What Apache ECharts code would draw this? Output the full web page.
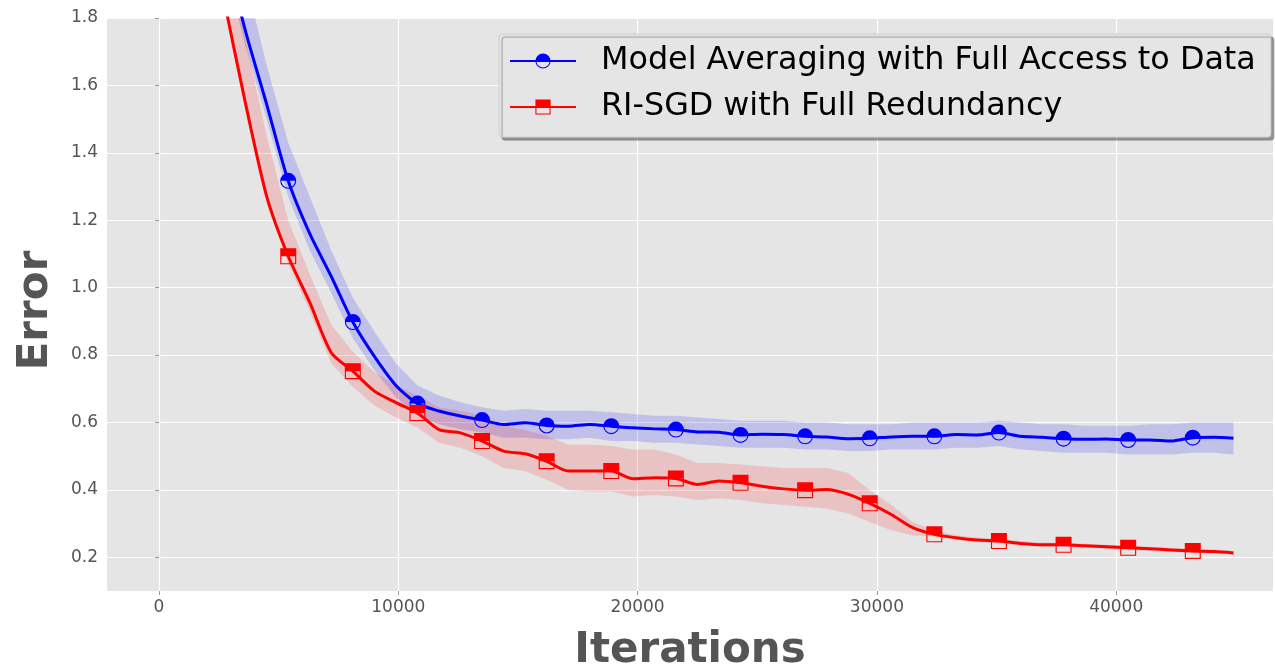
<!DOCTYPE html>
<html>
<head>
<meta charset="utf-8">
<script src="https://cdn.jsdelivr.net/npm/echarts@6/dist/echarts.min.js"></script>
<style>
  html, body { margin: 0; padding: 0; background: #ffffff; }
  #chart { width: 1275px; height: 672px; }
</style>
</head>
<body>
<div id="chart"></div>
<script>
// ---- data ----
const iters = [2700, 3600, 4500, 5400, 6300, 7200, 8100, 9000, 9900, 10800, 11700, 12600, 13500, 14400, 15300, 16200, 17100, 18000, 18900, 19800, 20700, 21600, 22500, 23400, 24300, 25200, 26100, 27000, 27900, 28800, 29700, 30600, 31500, 32400, 33300, 34200, 35100, 36000, 36900, 37800, 38700, 39600, 40500, 41400, 42300, 43200, 44100, 44900];

const blueMean = [2.02, 1.765, 1.544, 1.317, 1.160, 1.033, 0.898, 0.796, 0.710, 0.656, 0.634, 0.619, 0.607, 0.594, 0.599, 0.591, 0.589, 0.594, 0.589, 0.584, 0.581, 0.579, 0.572, 0.571, 0.563, 0.565, 0.564, 0.559, 0.557, 0.552, 0.553, 0.557, 0.559, 0.559, 0.564, 0.563, 0.570, 0.559, 0.556, 0.552, 0.550, 0.551, 0.548, 0.548, 0.545, 0.555, 0.556, 0.553];
const blueHi   = [2.20, 1.92, 1.66, 1.43, 1.27, 1.11, 0.97, 0.87, 0.775, 0.71, 0.68, 0.66, 0.645, 0.635, 0.64, 0.635, 0.635, 0.635, 0.63, 0.625, 0.62, 0.62, 0.615, 0.61, 0.605, 0.605, 0.605, 0.60, 0.60, 0.595, 0.595, 0.595, 0.60, 0.60, 0.60, 0.60, 0.605, 0.60, 0.595, 0.595, 0.59, 0.59, 0.59, 0.595, 0.595, 0.60, 0.60, 0.60];
const blueLo   = [1.97, 1.72, 1.50, 1.27, 1.11, 0.985, 0.85, 0.755, 0.675, 0.62, 0.595, 0.58, 0.57, 0.555, 0.555, 0.55, 0.55, 0.555, 0.545, 0.545, 0.54, 0.54, 0.535, 0.53, 0.525, 0.525, 0.525, 0.52, 0.52, 0.515, 0.515, 0.52, 0.52, 0.52, 0.525, 0.525, 0.53, 0.52, 0.515, 0.51, 0.51, 0.51, 0.505, 0.505, 0.505, 0.51, 0.51, 0.505];

const redMean = [1.86, 1.552, 1.271, 1.093, 0.956, 0.807, 0.752, 0.693, 0.659, 0.628, 0.579, 0.569, 0.545, 0.515, 0.507, 0.485, 0.456, 0.456, 0.456, 0.433, 0.436, 0.434, 0.416, 0.426, 0.421, 0.411, 0.403, 0.399, 0.401, 0.387, 0.360, 0.327, 0.288, 0.268, 0.258, 0.251, 0.248, 0.241, 0.237, 0.237, 0.234, 0.231, 0.228, 0.225, 0.222, 0.219, 0.217, 0.213];
const redHi   = [2.05, 1.74, 1.45, 1.20, 1.04, 0.89, 0.81, 0.75, 0.71, 0.68, 0.645, 0.635, 0.62, 0.59, 0.578, 0.56, 0.535, 0.535, 0.53, 0.52, 0.52, 0.505, 0.48, 0.48, 0.475, 0.47, 0.465, 0.465, 0.465, 0.45, 0.40, 0.355, 0.305, 0.28, 0.266, 0.258, 0.255, 0.248, 0.244, 0.243, 0.240, 0.237, 0.234, 0.231, 0.228, 0.225, 0.223, 0.219];
const redLo   = [1.84, 1.53, 1.25, 1.07, 0.93, 0.775, 0.705, 0.65, 0.615, 0.585, 0.54, 0.525, 0.50, 0.465, 0.455, 0.43, 0.40, 0.395, 0.395, 0.38, 0.385, 0.38, 0.37, 0.375, 0.37, 0.36, 0.355, 0.35, 0.345, 0.33, 0.305, 0.28, 0.265, 0.262, 0.252, 0.245, 0.242, 0.235, 0.231, 0.231, 0.228, 0.225, 0.222, 0.219, 0.216, 0.213, 0.211, 0.207];

const xTicks = [0, 10000, 20000, 30000, 40000];
const yTicks = [0.2, 0.4, 0.6, 0.8, 1.0, 1.2, 1.4, 1.6, 1.8];
const seriesNames = ['Model Averaging with Full Access to Data', 'RI-SGD with Full Redundancy'];
const markerStart = 5400, markerStep = 2700, markerEnd = 43200;

// ---- helpers ----
const pairs = (xs, ys) => xs.map((x, i) => [x, ys[i]]);
const markerPairs = (xs, ys) => xs.map((x, i) => [x, ys[i]])
  .filter(p => p[0] >= markerStart && p[0] <= markerEnd && (p[0] - markerStart) % markerStep === 0);

// half-filled (top) markers with thin outline
const circleMarker = 'path://M0,50 A50,50 0 0 1 100,50 Z M50,0 A50,50 0 1 1 50,100 A50,50 0 1 1 50,0 Z M50,7 A43,43 0 1 0 50,93 A43,43 0 1 0 50,7 Z';
const squareMarker = 'path://M0,0 L100,0 L100,50 L0,50 Z M0,0 L100,0 L100,100 L0,100 Z M7,7 L7,93 L93,93 L93,7 Z';

const BLUE = '#0000ff', RED = '#ff0000';
const FONT = 'DejaVu Sans';

const chart = echarts.init(document.getElementById('chart'), null, { renderer: 'canvas' });

// shaded band between lo and hi, positioned through the axes' coordinate conversion
const band = (name, hi, lo, color) => ({
  name, type: 'custom', coordinateSystem: 'cartesian2d', clip: true, silent: true, z: 1,
  data: [[iters[0], lo[0]]],
  renderItem: function (params, api) {
    const top = iters.map((x, i) => api.coord([x, hi[i]]));
    const bottom = iters.map((x, i) => api.coord([x, lo[i]])).reverse();
    return {
      type: 'polygon',
      shape: { points: top.concat(bottom) },
      style: { fill: color, stroke: null }
    };
  }
});

chart.setOption({
  animation: false,
  backgroundColor: '#ffffff',
  textStyle: { fontFamily: FONT },
  grid: {
    left: 107, top: 18, right: 2, bottom: 81,
    containLabel: false, outerBoundsMode: 'none',
    show: true, backgroundColor: '#E5E5E5', borderWidth: 0
  },
  legend: {
    data: seriesNames,
    orient: 'vertical',
    left: 499, top: 34,
    padding: [11, 15, 14, 10],
    itemGap: 14,
    itemWidth: 66, itemHeight: 19,
    backgroundColor: '#E5E5E5',
    borderColor: '#d0d0d0', borderWidth: 1, borderRadius: 3,
    shadowColor: 'rgba(0,0,0,0.35)', shadowOffsetX: 3, shadowOffsetY: 3, shadowBlur: 1,
    textStyle: { fontFamily: FONT, fontSize: 31.8, color: '#000000', padding: [0, 0, 0, 20] },
    selectedMode: false
  },
  xAxis: {
    type: 'value', min: -2173, max: 46552,
    name: 'Iterations', nameLocation: 'middle', nameGap: 39,
    nameTextStyle: { fontFamily: FONT, fontSize: 42, fontWeight: 'bold', color: '#555555' },
    axisLine: { show: false },
    axisTick: { show: true, customValues: xTicks, length: 4, lineStyle: { color: '#999999', width: 1 } },
    axisLabel: { customValues: xTicks, color: '#555555', fontSize: 17, margin: 8, formatter: v => String(v) },
    splitLine: { show: true, lineStyle: { color: '#ffffff', width: 1.2 } }
  },
  yAxis: {
    type: 'value', min: 0.1, max: 1.8,
    name: 'Error', nameLocation: 'middle', nameGap: 50,
    nameTextStyle: { fontFamily: FONT, fontSize: 42, fontWeight: 'bold', color: '#555555', padding: [0, 12, 0, 0] },
    axisLine: { show: false },
    axisTick: { show: true, customValues: yTicks, length: 4, lineStyle: { color: '#999999', width: 1 } },
    axisLabel: { customValues: yTicks, color: '#555555', fontSize: 17, margin: 9, formatter: v => v.toFixed(1) },
    splitLine: { show: true, lineStyle: { color: '#ffffff', width: 1.2 } }
  },
  series: [
    band('blueBand', blueHi, blueLo, 'rgba(0,0,255,0.16)'),
    band('redBand', redHi, redLo, 'rgba(255,0,0,0.15)'),
    {
      name: seriesNames[0], type: 'line', data: pairs(iters, blueMean),
      symbol: circleMarker, symbolSize: 16, showSymbol: false, smooth: 0.25,
      lineStyle: { color: BLUE, width: 3 }, itemStyle: { color: BLUE }, z: 3
    },
    {
      name: seriesNames[1], type: 'line', data: pairs(iters, redMean),
      symbol: squareMarker, symbolSize: 16, showSymbol: false, smooth: 0.25,
      lineStyle: { color: RED, width: 3 }, itemStyle: { color: RED }, z: 3
    },
    {
      name: 'blueMarkers', type: 'scatter', data: markerPairs(iters, blueMean),
      symbol: circleMarker, symbolSize: 16, itemStyle: { color: BLUE, opacity: 1 }, z: 4, silent: true
    },
    {
      name: 'redMarkers', type: 'scatter', data: markerPairs(iters, redMean),
      symbol: squareMarker, symbolSize: 16, itemStyle: { color: RED, opacity: 1 }, z: 4, silent: true
    }
  ]
});
</script>
</body>
</html>
